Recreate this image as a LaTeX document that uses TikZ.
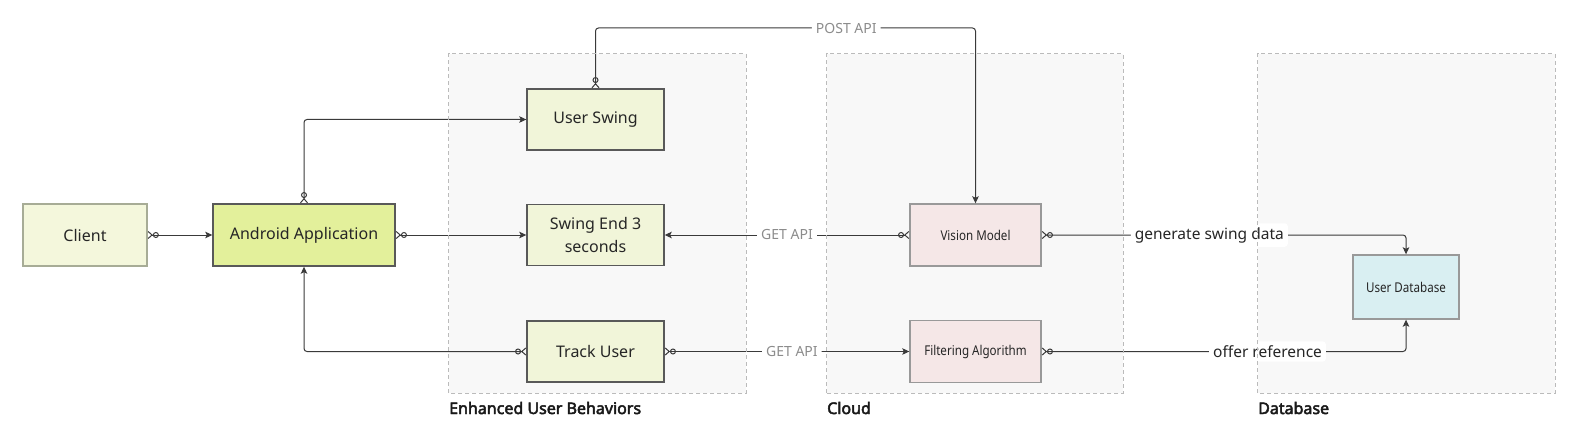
\documentclass[tikz,border=0pt]{standalone}
\usepackage{fontspec}
\setmainfont{Noto Sans}
\newfontfamily\narrowfont[FakeStretch=0.86]{Noto Sans}
\newfontfamily\grpfont[FakeBold=3]{Noto Sans}
\usetikzlibrary{arrows.meta}

\definecolor{clientfill}{HTML}{F4F7DC}
\definecolor{clientline}{HTML}{A7AC96}
\definecolor{appfill}{HTML}{E3F09B}
\definecolor{behfill}{HTML}{F1F5D9}
\definecolor{cloudfill}{HTML}{F5E7E7}
\definecolor{dbfill}{HTML}{D9EFF2}
\definecolor{grpfill}{HTML}{F8F8F8}
\definecolor{grpline}{HTML}{BBBBBB}
\definecolor{linkcol}{HTML}{3A3A3A}

\begin{document}
\begin{tikzpicture}[x=1pt,y=-1pt,
    box/.style={draw=black!65,line width=1.4pt,fill=behfill,inner sep=0pt,
                minimum width=137pt,minimum height=61pt,align=center,
                text=black!85,font=\fontsize{16}{23}\selectfont},
    smallbox/.style={box,draw=black!40,fill=cloudfill,minimum width=131pt,
                minimum height=62pt,font=\narrowfont\fontsize{13.5}{16}\selectfont},
    grp/.style={fill=grpfill,inner sep=0pt},
    grpborder/.style={draw=grpline,line width=0.8pt,dash pattern=on 4pt off 3pt},
    grplbl/.style={anchor=west,inner sep=0pt,text=black!90,
                font=\grpfont\fontsize{16}{19}\selectfont},
    lbl/.style={fill=white,inner sep=4pt,text=black!85,
                font=\fontsize{15.5}{18}\selectfont},
    api/.style={lbl,text=black!45,font=\fontsize{14}{17}\selectfont}]
\useasboundingbox (0,0) rectangle (1589,433);

% groups
\begin{scope}
    \node[grp,minimum width=297pt,minimum height=339pt] (G1) at (597.5,223.5) {};
    \node[grp,minimum width=296pt,minimum height=339pt] (G2) at (975,223.5) {};
    \node[grp,minimum width=297pt,minimum height=339pt] (G3) at (1406.5,223.5) {};
    \node[grplbl] (L1) at (449,408) {Enhanced User Behaviors};
    \node[grplbl] (L2) at (827,408) {Cloud};
    \node[grplbl] (L3) at (1258,408) {Database};
\end{scope}

% boxes
\begin{scope}
    \node[box,draw=clientline,line width=1.2pt,fill=clientfill,minimum width=124pt,
          minimum height=62pt] (C) at (85,235) {Client};
    \node[box,fill=appfill,minimum width=182pt,minimum height=62pt] (A) at (304,235) {Android Application};
    \node[box] (S) at (595.5,119.5) {User Swing};
    \node[box] (E) at (595.5,235) {Swing End 3\\seconds};
    \node[box] (T) at (595.5,351.5) {Track User};
    \node[smallbox] (V) at (975.5,235) {Vision Model};
    \node[smallbox] (F) at (975.5,351.5) {Filtering Algorithm};
    \node[smallbox,fill=dbfill,minimum width=106pt,minimum height=64pt] (D) at (1406,287) {User Database};
    \coordinate (P) at (975.5,28);
\end{scope}

% connectors
\begin{scope}[>={Stealth[length=7pt,width=6.5pt,inset=1.5pt]},
              zom/.style={draw=linkcol,line width=1pt,rounded corners=3pt,
                  arrows={{Straight Barb[reversed,length=4pt,width=7pt]Circle[open,length=6pt]}->}}]
    \draw [zom] (C) -- (A);
    \draw [zom] (A) -- (E);
    \draw [zom] (A.north) |- (S.west);
    \draw [zom] (T.west) -| (A.south);
    \draw [zom] (S.north) |- node[api,pos=0.83] {POST API} (P) -- (V.north);
    \draw [zom] (V.west) -- node[api] {GET API} (E.east);
    \draw [zom] (T.east) -- node[api,pos=0.52] {GET API} (F.west);
    \draw [zom] (V.east) -- node[lbl,pos=0.46] {generate swing data} (V.east -| D.north) -- (D.north);
    \draw [zom] (F.east) -- node[lbl,pos=0.62] {offer reference} (F.east -| D.south) -- (D.south);
\end{scope}

% group borders on top
\foreach \g in {G1,G2,G3}
    \draw[grpborder] (\g.south west) rectangle (\g.north east);
\end{tikzpicture}
\end{document}
